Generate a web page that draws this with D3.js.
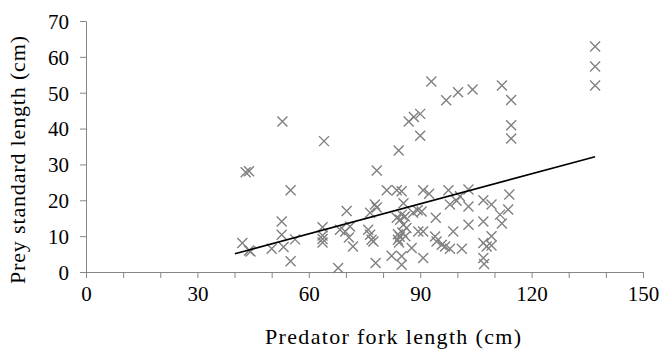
<!DOCTYPE html>
<html>
<head>
<meta charset="utf-8">
<script src="https://cdn.jsdelivr.net/npm/d3@7"></script>
<style>
  html, body { margin: 0; padding: 0; background: #fff; }
  svg { display: block; }
</style>
</head>
<body>
<div id="chart"></div>
<script>
// ---- Data ----
const predatorLength = [
  42.1, 43.9, 44.3, 43.0, 43.9, 50.0, 52.7, 52.7, 53.2, 52.9, 55.1, 55.1, 56.3,
  63.7, 63.7, 63.7, 63.7, 64.1,
  67.9, 68.4, 69.8, 70.2, 71.1, 70.8, 71.9,
  76.0, 76.5, 76.9, 77.4, 76.5, 77.8, 78.3, 78.3, 78.0,
  81.0, 82.3, 84.2,
  83.7, 85.0, 85.5, 85.0, 85.9, 83.7, 84.6, 85.5, 86.3, 84.0, 84.5, 84.0, 84.3, 85.2, 86.0, 85.0, 85.0, 87.7,
  86.9, 88.3, 90.0, 90.0,
  88.1, 89.3, 90.4, 89.5, 90.8, 90.8, 90.8, 92.4,
  93.0, 94.2, 94.0, 94.4, 95.8, 96.7, 97.6, 98.0, 99.8, 98.9, 98.0, 97.0,
  100.2, 100.7, 101.2, 103.0, 103.0, 103.0, 104.1,
  107.0, 107.0, 107.0, 107.9, 107.0, 107.2, 109.2, 109.2, 109.2,
  111.5, 112.0, 113.7, 114.0, 112.0, 114.5, 114.5, 114.5,
  137.1, 137.1, 137.1
];
const preyLength = [
  8.1, 6.0, 5.7, 27.8, 28.1, 6.5, 14.1, 10.4, 7.0, 42.0, 22.8, 3.0, 9.1,
  12.5, 10.2, 9.2, 8.2, 36.5,
  1.1, 11.8, 11.3, 17.0, 12.7, 9.6, 7.1,
  11.8, 10.4, 9.0, 8.5, 16.5, 18.8, 18.0, 28.3, 2.5,
  22.8, 4.5, 33.9,
  22.8, 22.5, 19.2, 16.0, 15.5, 15.1, 14.6, 13.2, 12.3, 10.5, 9.8, 9.0, 8.2, 11.0, 10.0, 4.4, 2.0, 6.7,
  42.0, 43.2, 44.1, 38.0,
  16.5, 17.2, 16.9, 11.3, 11.3, 3.9, 22.8, 21.8,
  53.1, 15.1, 9.9, 8.5, 7.6, 7.1, 22.8, 18.8, 19.9, 11.3, 6.5, 47.9,
  50.1, 21.1, 6.5, 23.0, 18.3, 13.2, 50.9,
  20.0, 14.1, 8.1, 7.1, 3.9, 2.2, 18.8, 10.0, 7.4,
  16.0, 13.5, 17.4, 21.6, 52.0, 48.0, 40.9, 37.2,
  62.9, 57.3, 52.0
];
const xTicks = [0, 30, 60, 90, 120, 150];
const xMinorTicks = [0, 10, 20, 30, 40, 50, 60, 70, 80, 90, 100, 110, 120, 130, 140, 150];
const yTicks = [0, 10, 20, 30, 40, 50, 60, 70];
const trendSlope = 0.279;
const trendIntercept = -6.1;
const trendRange = [40.1, 137.1];
const xTitle = "Predator fork length (cm)";
const yTitle = "Prey standard length (cm)";

// ---- Layout ----
const W = 660, H = 349;
const M = { left: 86, right: 17, top: 21, bottom: 77 };
const pw = W - M.left - M.right, ph = H - M.top - M.bottom;

const svg = d3.select("#chart").append("svg").attr("width", W).attr("height", H);
const g = svg.append("g").attr("transform", `translate(${M.left},${M.top})`);

const x = d3.scaleLinear().domain([0, 150]).range([0, pw]);
const y = d3.scaleLinear().domain([0, 70]).range([ph, 0]);

const axisColor = "#868686";
const font = '"Liberation Serif", serif';

// X axis: minor ticks every 10, labels every 30
const xAxis = g.append("g").attr("transform", `translate(0,${ph})`)
  .call(d3.axisBottom(x).tickValues(xMinorTicks).tickSize(6).tickSizeOuter(0)
    .tickFormat(d => xTicks.includes(d) ? d : ""));
xAxis.select(".domain").attr("stroke", axisColor).attr("stroke-width", 1);
xAxis.selectAll(".tick line").attr("stroke", axisColor);
xAxis.selectAll(".tick text").attr("fill", "#000").attr("font-size", 21)
  .attr("font-family", font).attr("dy", "0.95em").attr("y", 9);

const yAxis = g.append("g")
  .call(d3.axisLeft(y).tickValues(yTicks).tickSize(6).tickSizeOuter(0));
yAxis.select(".domain").attr("stroke", axisColor).attr("stroke-width", 1);
yAxis.selectAll(".tick line").attr("stroke", axisColor);
yAxis.selectAll(".tick text").attr("fill", "#000").attr("font-size", 21)
  .attr("font-family", font).attr("x", -17).attr("dy", "0.35em");

// Markers (x shapes)
const data = predatorLength.map((v, i) => [v, preyLength[i]]);
const s = 5;
g.append("g").selectAll("path").data(data).join("path")
  .attr("d", d => {
    const cx = x(d[0]), cy = y(d[1]);
    return `M${cx - s},${cy - s}L${cx + s},${cy + s}M${cx - s},${cy + s}L${cx + s},${cy - s}`;
  })
  .attr("stroke", "#808080").attr("stroke-width", 1.4).attr("fill", "none");

// Trend line
g.append("line")
  .attr("x1", x(trendRange[0])).attr("y1", y(trendSlope * trendRange[0] + trendIntercept))
  .attr("x2", x(trendRange[1])).attr("y2", y(trendSlope * trendRange[1] + trendIntercept))
  .attr("stroke", "#000").attr("stroke-width", 1.6);

// Titles
svg.append("text").attr("x", 393).attr("y", 344)
  .attr("text-anchor", "middle").attr("font-family", font).attr("font-size", 22)
  .attr("textLength", 256).attr("lengthAdjust", "spacing")
  .text(xTitle);
svg.append("text")
  .attr("transform", `translate(25,${160}) rotate(-90)`)
  .attr("text-anchor", "middle").attr("font-family", font).attr("font-size", 22)
  .attr("textLength", 248).attr("lengthAdjust", "spacing")
  .text(yTitle);
</script>
</body>
</html>
